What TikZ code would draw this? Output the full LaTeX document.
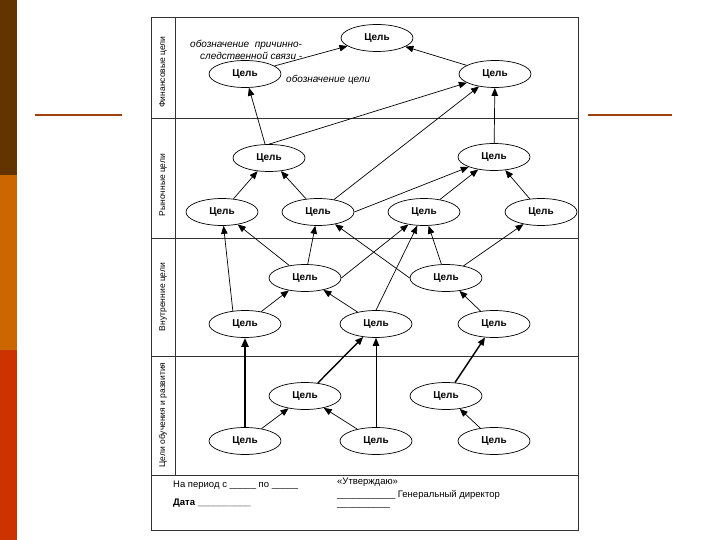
\documentclass[tikz,border=0pt]{standalone}
\usepackage{fontspec}
\setmainfont{Liberation Sans}
\usetikzlibrary{arrows.meta,shapes.geometric}
\definecolor{barbrown}{RGB}{99,51,0}
\definecolor{barorange}{RGB}{204,102,0}
\definecolor{barred}{RGB}{204,51,0}
\definecolor{rulecol}{RGB}{160,64,16}

\begin{document}
\begin{tikzpicture}[x=1pt, y=-1pt,
        % Стиль для целей (эллипсы)
        goal/.style={ellipse, draw=black, line width=0.7pt, fill=white, minimum width=72pt, minimum height=27pt, inner sep=0pt, font=\fontsize{10}{12}\selectfont\bfseries},
        % Стрелки причинно-следственных связей
        link/.style={-{Triangle[length=8pt,width=6.5pt]}, line width=0.7pt},
        boldlink/.style={link, line width=1.4pt},
        heavylink/.style={-{Triangle[length=9pt,width=7pt]}, line width=2.4pt},
        % Подписи полос (повёрнутые)
        bandlabel/.style={rotate=90, font=\fontsize{8.5}{10}\selectfont},
        note/.style={anchor=west, inner sep=0pt, font=\fontsize{10}{12}\selectfont\itshape},
        formtext/.style={anchor=west, inner sep=0pt, font=\fontsize{9.5}{11}\selectfont},
        frame/.style={draw=black!80, line width=0.8pt}
    ]
        \useasboundingbox (0,0) rectangle (720,540);

        % --- ФОН СЛАЙДА ---
        \fill[barbrown]  (0,0)   rectangle (17,175);
        \fill[barorange] (0,175) rectangle (17,350);
        \fill[barred]    (0,350) rectangle (17,540);
        \draw[rulecol, line width=2pt] (35,115) -- (122,115);
        \draw[rulecol, line width=2pt] (588,115) -- (672,115);

        % --- РАМКА И ПОЛОСЫ ---
        \draw[frame] (151,17) rectangle (578,530);
        \draw[frame] (175,17) -- (175,475);
        \draw[frame] (151,118) -- (578,118);
        \draw[frame] (151,238) -- (578,238);
        \draw[frame] (151,356) -- (578,356);
        \draw[frame] (151,475) -- (578,475);

        \node[bandlabel] (T1) at (163,72)  {Финансовые цели};
        \node[bandlabel] (T2) at (163,185) {Рыночные цели};
        \node[bandlabel] (T3) at (163,297) {Внутренние цели};
        \node[bandlabel] (T4) at (163,415) {Цели обучения и развития};

        % --- ЦЕЛИ ---
        % Финансовые
        \node[goal] (F1) at (377,38) {Цель};
        \node[goal] (F2) at (245,74) {Цель};
        \node[goal] (F3) at (495,74) {Цель};
        % Рыночные
        \node[goal] (M1) at (269,158) {Цель};
        \node[goal] (M2) at (494,157) {Цель};
        \node[goal] (M3) at (222,212) {Цель};
        \node[goal] (M4) at (318,212) {Цель};
        \node[goal] (M5) at (424,212) {Цель};
        \node[goal] (M6) at (541,212) {Цель};
        % Внутренние
        \node[goal] (I1) at (305,278) {Цель};
        \node[goal] (I2) at (446,278) {Цель};
        \node[goal] (I3) at (245,324) {Цель};
        \node[goal] (I4) at (376,324) {Цель};
        \node[goal] (I5) at (494,324) {Цель};
        % Обучение и развитие
        \node[goal] (L1) at (305,396) {Цель};
        \node[goal] (L2) at (446,396) {Цель};
        \node[goal] (L3) at (245,441) {Цель};
        \node[goal] (L4) at (376,441) {Цель};
        \node[goal] (L5) at (494,441) {Цель};

        % --- ОБОЗНАЧЕНИЯ ---
        \node[note] (C1) at (190,45) {обозначение\ \ причинно-};
        \node[note] (C2) at (200,56) {следственной связи -};
        \node[note] (C3) at (286,80) {обозначение цели};

        % --- СВЯЗИ ---
        \draw[link] (F2) -- (F1);
        \draw[link] (F3) -- (F1);
        \draw[link] (M1) -- (F2);
        \draw[link] (M1.north) -- (F3);
        \draw[link] (M4) -- (F3);
        \draw[link] (M2) -- (F3);

        \draw[link] (M3) -- (M1);
        \draw[link] (M4) -- (M1);
        \draw[link] (M4.east) -- (M2);
        \draw[link] (M5) -- (M2);
        \draw[link] (M6) -- (M2);

        \draw[link] (I3.133) -- (M3);
        \draw[link] (I1) -- (M3);
        \draw[link] (I1) -- (M4);
        \draw[link] (I2.west) -- (M4);
        \draw[link] (I1.east) -- (M5);
        \draw[link] (I4.north) -- (M5);
        \draw[link] (I2) -- (M5);
        \draw[link] (I2) -- (M6);

        \draw[link] (I3) -- (I1);
        \draw[link] (I4) -- (I1);
        \draw[link] (I5) -- (I2);

        \draw[heavylink] (L3) -- (I3);
        \draw[boldlink] (L1) -- (I4);
        \draw[link] (L4) -- (I4);
        \draw[boldlink] (L2) -- (I5);

        \draw[link] (L3) -- (L1);
        \draw[link] (L4) -- (L1);
        \draw[link] (L5) -- (L2);

        % --- ПОДВАЛ ---
        \node[formtext] (P1) at (173,485) {На период с \_\_\_\_\_ по \_\_\_\_\_};
        \node[formtext, font=\fontsize{9.5}{11}\selectfont\bfseries] (P2) at (173,503) {Дата \_\_\_\_\_\_\_\_\_\_};
        \node[formtext] (P3) at (337,482) {«Утверждаю»};
        \node[formtext] (P4) at (337,494.5) {\_\_\_\_\_\_\_\_\_\_\_ Генеральный директор};
        \node[formtext] (P5) at (337,507.5) {\_\_\_\_\_\_\_\_\_\_};

    \end{tikzpicture}
\end{document}
